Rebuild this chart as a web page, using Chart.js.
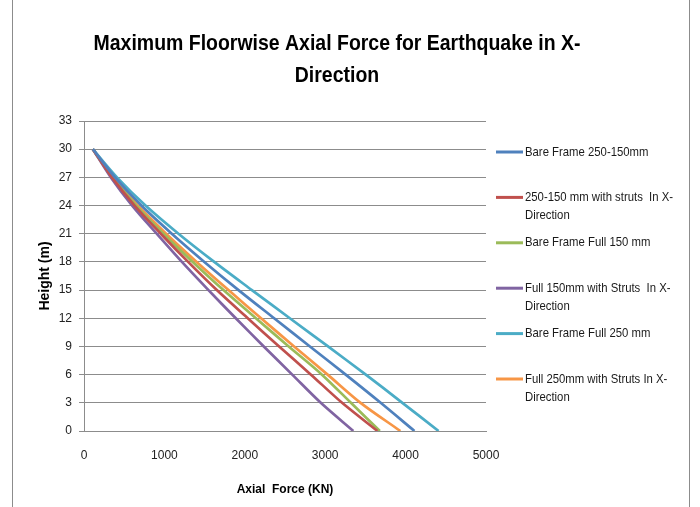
<!DOCTYPE html>
<html>
<head>
<meta charset="utf-8">
<title>Maximum Floorwise Axial Force for Earthquake in X-Direction</title>
<script src="https://cdn.jsdelivr.net/npm/chart.js@4"></script>
<style>
  html, body { margin: 0; padding: 0; background: #fff; }
  #wrap { position: relative; width: 700px; height: 507px; }
  canvas { display: block; }
</style>
</head>
<body>
<div id="wrap"><canvas id="chart" width="700" height="507"></canvas></div>
<script>
// Storey heights (m)
const heights = [0, 3, 6, 9, 12, 15, 18, 21, 24, 27, 30];

// Axial force (kN) at each height, one array per model
const bareFrame250_150 = [4110, 3690, 3255, 2810, 2365, 1922, 1497, 1092, 713, 386, 110];
const struts250_150    = [3650, 3210, 2823, 2427, 2037, 1652, 1295, 955, 629, 348, 110];
const bareFrameFull150 = [3680, 3320, 2960, 2546, 2138, 1735, 1353, 988, 649, 357, 110];
const strutsFull150    = [3350, 2945, 2590, 2236, 1888, 1548, 1218, 905, 599, 334, 110];
const bareFrameFull250 = [4410, 3960, 3505, 3035, 2560, 2088, 1620, 1175, 765, 410, 110];
const strutsFull250    = [3935, 3440, 3030, 2613, 2202, 1797, 1401, 1021, 670, 366, 110];

const seriesLabels = [
  'Bare Frame 250-150mm',
  '250-150 mm with struts  In X-\nDirection',
  'Bare Frame Full 150 mm',
  'Full 150mm with Struts  In X-\nDirection',
  'Bare Frame Full 250 mm',
  'Full 250mm with Struts In X-\nDirection'
];
const seriesValues = [bareFrame250_150, struts250_150, bareFrameFull150, strutsFull150, bareFrameFull250, strutsFull250];
const seriesColors = ['#4F81BD', '#C0504D', '#9BBB59', '#8064A2', '#4BACC6', '#F79646'];

const xTicks = [0, 1000, 2000, 3000, 4000, 5000];
const yTicks = [0, 3, 6, 9, 12, 15, 18, 21, 24, 27, 30, 33];

const titleLines = ['Maximum Floorwise Axial Force for Earthquake in X-', 'Direction'];

const FONT = "'Liberation Sans', Arial, sans-serif";

const datasets = seriesValues.map((vals, i) => ({
  label: seriesLabels[i],
  data: vals.map((v, k) => ({ x: v, y: heights[k] })),
  borderColor: seriesColors[i],
  backgroundColor: seriesColors[i],
  borderWidth: 2.7,
  pointRadius: 0,
  tension: 0.3,
  fill: false
}));

// Draw text squeezed horizontally for a narrower face
function condensedText(ctx, text, x, y, sx) {
  ctx.save();
  ctx.translate(x, y);
  ctx.scale(sx, 1);
  ctx.fillText(text, 0, 0);
  ctx.restore();
}

// Two-line chart title
const chartTitle = {
  id: 'chartTitle',
  afterDraw(chart) {
    const ctx = chart.ctx;
    ctx.save();
    ctx.font = 'bold 22px ' + FONT;
    ctx.fillStyle = '#000';
    ctx.textAlign = 'center';
    ctx.textBaseline = 'middle';
    titleLines.forEach((line, j) => condensedText(ctx, line, 337, 44 + j * 32, 0.885));
    ctx.restore();
  }
};

// Legend on the right, with wrapped entries
const sideLegend = {
  id: 'sideLegend',
  afterDraw(chart) {
    const ctx = chart.ctx;
    ctx.save();
    ctx.font = '13px ' + FONT;
    ctx.textBaseline = 'middle';
    ctx.textAlign = 'left';
    chart.data.datasets.forEach((ds, i) => {
      const y = 152 + i * 45.4;
      ctx.strokeStyle = ds.borderColor;
      ctx.lineWidth = 3;
      ctx.beginPath();
      ctx.moveTo(496, y);
      ctx.lineTo(523, y);
      ctx.stroke();
      ctx.fillStyle = '#1a1a1a';
      ds.label.split('\n').forEach((line, j) => {
        condensedText(ctx, line, 525, y + j * 18.5, 0.872);
      });
    });
    ctx.restore();
  }
};

// Thin outer frame at left and right edges
const frame = {
  id: 'frame',
  beforeDraw(chart) {
    const ctx = chart.ctx;
    ctx.save();
    ctx.strokeStyle = '#8c8c8c';
    ctx.lineWidth = 1;
    ctx.beginPath();
    ctx.moveTo(12.5, 0); ctx.lineTo(12.5, 507);
    ctx.moveTo(689.5, 0); ctx.lineTo(689.5, 507);
    ctx.stroke();
    ctx.restore();
  }
};

new Chart(document.getElementById('chart'), {
  type: 'line',
  data: { datasets },
  options: {
    responsive: false,
    animation: false,
    layout: { padding: { left: 36, right: 214, top: 121, bottom: 0 } },
    plugins: {
      legend: { display: false },
      tooltip: { enabled: false },
      title: { display: false }
    },
    scales: {
      x: {
        type: 'linear',
        min: 0,
        max: 5000,
        afterBuildTicks(scale) { scale.ticks = xTicks.map(v => ({ value: v })); },
        afterFit(scale) { scale.height = 76; },
        grid: { display: false, drawTicks: false },
        border: { display: true, color: '#8c8c8c', width: 1 },
        ticks: {
          color: '#222',
          font: { family: FONT, size: 12 },
          padding: 17,
          maxRotation: 0,
          callback: v => String(v)
        },
        title: {
          display: true,
          text: 'Axial  Force (KN)',
          color: '#000',
          font: { family: FONT, size: 12, weight: 'bold' },
          padding: { top: 0, bottom: 10 }
        }
      },
      y: {
        type: 'linear',
        min: 0,
        max: 33,
        afterBuildTicks(scale) { scale.ticks = yTicks.map(v => ({ value: v })); },
        afterFit(scale) { scale.width = 48; },
        grid: { color: '#8c8c8c', lineWidth: 1, tickLength: 5, drawTicks: true },
        border: { display: true, color: '#8c8c8c', width: 1 },
        ticks: { color: '#222', font: { family: FONT, size: 12 }, padding: 7 },
        title: {
          display: true,
          text: 'Height (m)',
          color: '#000',
          font: { family: FONT, size: 14, weight: 'bold' },
          padding: { top: 1, bottom: 0 }
        }
      }
    }
  },
  plugins: [frame, chartTitle, sideLegend]
});
</script>
</body>
</html>
